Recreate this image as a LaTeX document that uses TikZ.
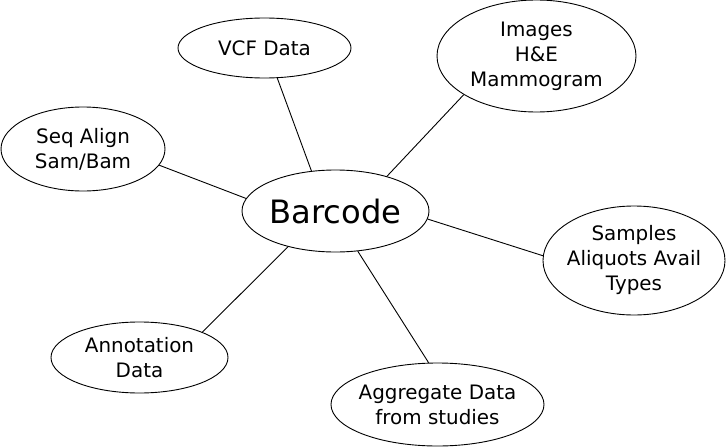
\documentclass[tikz,border=0pt]{standalone}
\usepackage{fontspec}
\setmainfont{DejaVu Sans}
\usetikzlibrary{shapes.geometric}
\tikzset{
  bub/.style={ellipse, draw=black, line width=0.9pt, fill=white, inner sep=0pt},
  txt/.style={align=center, inner sep=0pt, font=\fontsize{19.9}{25}\selectfont},
  conn/.style={draw=black, line width=0.9pt}
}
\begin{document}
\begin{tikzpicture}[x=1pt,y=-1pt]
\useasboundingbox (0,0) rectangle (726,447);
\node[bub, minimum width=187pt, minimum height=82pt] (bar) at (335.5,211) {};
\node[inner sep=0pt, font=\fontsize{32.2}{36}\selectfont] (barT) at (bar) {Barcode};
\node[bub, minimum width=173pt, minimum height=60pt] (vcf) at (264.5,48) {};
\node[txt] (vcfT) at (vcf) {VCF Data};
\node[bub, minimum width=199pt, minimum height=112pt] (img) at (536.5,56) {};
\node[txt] (imgT) at (img) {Images\\H\&E\\Mammogram};
\node[bub, minimum width=164pt, minimum height=84pt] (seq) at (83,149) {};
\node[txt] (seqT) at (seq) {Seq Align\\Sam/Bam};
\node[bub, minimum width=182pt, minimum height=109pt] (smp) at (634,260.5) {};
\node[txt] (smpT) at (smp) {Samples\\Aliquots Avail\\Types};
\node[bub, minimum width=177pt, minimum height=71pt] (ann) at (139.5,357.5) {};
\node[txt] (annT) at (ann) {Annotation\\Data};
\node[bub, minimum width=213pt, minimum height=83pt] (agg) at (437.5,404.5) {};
\node[txt] (aggT) at (agg) {Aggregate Data\\from studies};
\draw[conn] (vcf.-67.4) -- (bar.121.9);
\draw[conn] (img.208.6) -- (bar.34.2);
\draw[conn] (seq.-12.6) -- (bar.172.6);
\draw[conn] (bar.-5.5) -- (smp.177.2);
\draw[conn] (ann.22.2) -- (bar.217.7);
\draw[conn] (bar.-61.2) -- (agg.102.9);
\end{tikzpicture}
\end{document}
